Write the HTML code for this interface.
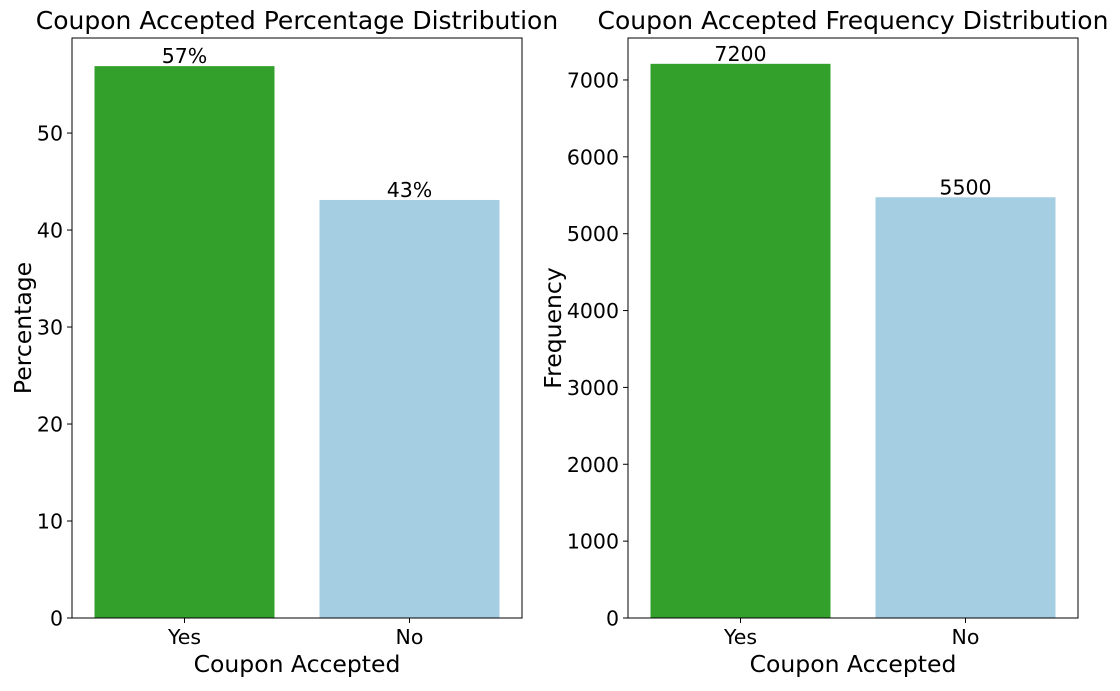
<!DOCTYPE html>
<html><head><meta charset="utf-8"><style>
body{margin:0;background:#fff;}
svg text{font-family:"DejaVu Sans","Liberation Sans",sans-serif;fill:#000;}
</style></head><body>
<svg id="chart" width="1120" height="686" xmlns="http://www.w3.org/2000/svg"></svg>
<script>
const categories = ["Yes","No"];
const colors = ["#33a02c","#a6cee3"];
const pctValues = [56.9, 43.1];
const pctLabels = ["57%","43%"];
const pctTicks = [0,10,20,30,40,50];
const freqValues = [7210, 5474];
const freqLabels = ["7200","5500"];
const freqTicks = [0,1000,2000,3000,4000,5000,6000,7000];

const NS="http://www.w3.org/2000/svg";
const svg=document.getElementById('chart');
function mk(tag,attrs,parent){const e=document.createElementNS(NS,tag);for(const k in attrs)e.setAttribute(k,attrs[k]);(parent||svg).appendChild(e);return e;}

function panel(name,x0,x1,y0,y1,ymax,vals,labels,ticks,title,ylabel,ylx){
  const g=mk('g',{});
  
  
  const yS=v=>y1-(v/ymax)*(y1-y0);
  const step=(x1-x0)/categories.length;
  const xC=i=>x0+step*(i+0.5);
  const bw=step*0.8;
  vals.forEach((v,i)=>{
    const r=mk('rect',{x:xC(i)-bw/2,y:yS(v),width:bw,height:y1-yS(v),fill:colors[i]},g);
    
    
    const t=mk('text',{x:xC(i),y:yS(v)-3,'font-size':20.5,'text-anchor':'middle'},g);
    t.textContent=labels[i];
    
    
  });
  const fr=mk('rect',{x:x0,y:y0,width:x1-x0,height:y1-y0,fill:'none',stroke:'#000','stroke-width':1},g);
  
  
  ticks.forEach(tv=>{
    const y=yS(tv);
    mk('line',{x1:x0-5,x2:x0,y1:y,y2:y,stroke:'#000'},g);
    const t=mk('text',{x:x0-9,y:y+7.5,'font-size':20.5,'text-anchor':'end'},g);
    t.textContent=tv;
    
    
  });
  categories.forEach((c,i)=>{
    mk('line',{x1:xC(i),x2:xC(i),y1:y1,y2:y1+5,stroke:'#000'},g);
    const t=mk('text',{x:xC(i),y:y1+26,'font-size':20.5,'text-anchor':'middle'},g);
    t.textContent=c;
    
    
  });
  const tt=mk('text',{x:(x0+x1)/2,y:y0-9,'font-size':25,'text-anchor':'middle'},g);
  tt.textContent=title;
  
  
  const xl=mk('text',{x:(x0+x1)/2,y:672,'font-size':23.5,'text-anchor':'middle'},g);
  xl.textContent='Coupon Accepted';
  
  
  const yl=mk('text',{x:ylx,y:(y0+y1)/2,'font-size':23.5,'text-anchor':'middle',transform:`rotate(-90 ${ylx} ${(y0+y1)/2})`},g);
  yl.textContent=ylabel;
  
  
}
panel('percentage',72,522,38,618,59.8,pctValues,pctLabels,pctTicks,'Coupon Accepted Percentage Distribution','Percentage',31);
panel('frequency',628,1078,38,618,7546,freqValues,freqLabels,freqTicks,'Coupon Accepted Frequency Distribution','Frequency',561);
</script>
</body></html>
